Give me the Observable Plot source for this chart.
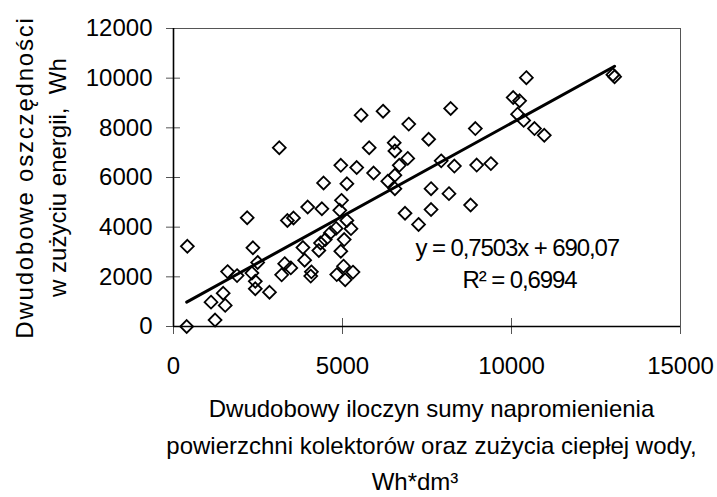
<!DOCTYPE html>
<html><head><meta charset="utf-8">
<script src="https://cdn.jsdelivr.net/npm/d3@7"></script>
<script src="https://cdn.jsdelivr.net/npm/@observablehq/plot@0.6"></script>
<style>body{margin:0;background:#fff}</style>
</head><body><div id="chart"></div>
<script>
const xValues = [390,410,1230,1110,1470,1530,1600,1880,2180,2350,2490,2320,2420,2420,2840,3130,3200,3290,3470,3370,3550,3830,3880,3970,4060,4080,4300,4350,4390,4440,4490,4640,4810,4830,4950,4970,4920,4950,5030,5080,5050,5130,5130,5250,5310,5420,5550,5790,5920,6200,6340,6530,6550,6550,6550,6680,6850,6930,6960,7250,7550,7620,7620,7920,8150,8200,8310,8790,8930,8970,9390,10050,10240,10180,10360,10440,10680,10970,13000,13050];
const yValues = [0,3230,260,980,1340,850,2210,2050,4380,3170,2580,2150,1820,1520,1380,7200,2080,2530,2360,4270,4370,3180,2670,4810,2030,2200,3060,3360,4740,5780,3500,3770,3950,2090,6490,5080,4680,3030,2430,1880,3500,5750,4270,3940,2190,6400,8510,7200,6180,8670,5850,7400,7070,6090,5550,6490,4560,6770,8150,4110,7540,5550,4710,6670,5350,8780,6460,4890,7970,6500,6560,9220,9090,8550,8300,10020,7970,7700,10140,10060];
const xTicks = [0, 5000, 10000, 15000];
const yTicks = [0, 2000, 4000, 6000, 8000, 10000, 12000];
const slope = 0.7503;
const intercept = 690.07;
const equationLabel = "y = 0,7503x + 690,07";
const r2Label = "R² = 0,6994";
const yLabelLines = ["Dwudobowe oszczędności", "w zużyciu energii,  Wh"];
const xLabelLines = ["Dwudobowy iloczyn sumy napromienienia", "powierzchni kolektorów oraz zużycia ciepłej wody,", "Wh*dm³"];

const points = xValues.map((x, i) => ({x, y: yValues[i]}));
const xMin = d3.min(xValues), xMax = d3.max(xValues);
const trend = [xMin, xMax].map(x => ({x, y: slope * x + intercept}));
const fmt = d3.format("d");
const txt = {text: d => d, fontSize: 24, fill: "#000"};

const chart = Plot.plot({
  width: 717, height: 497,
  marginLeft: 173, marginRight: 37, marginTop: 28, marginBottom: 171,
  style: {fontFamily: "'Liberation Sans', Arial, sans-serif", fontSize: "24px", color: "#000", background: "#fff"},
  x: {domain: [0, 15000]},
  y: {domain: [0, 12000]},
  marks: [
    Plot.frame({stroke: "#555", strokeWidth: 1}),
    Plot.axisX(xTicks, {tickSize: 8, tickPadding: 22, tickFormat: fmt, label: null, stroke: "#555", fill: "#000"}),
    Plot.axisX(xTicks, {tickSize: -8, tickFormat: () => "", label: null, stroke: "#555"}),
    Plot.axisY(yTicks, {tickSize: 7, tickPadding: 14, tickFormat: fmt, label: null, stroke: "#555", fill: "#000"}),
    Plot.axisY(yTicks, {tickSize: -7, tickFormat: () => "", label: null, stroke: "#555"}),
    Plot.ruleX([0], {stroke: "#000", strokeWidth: 1.6}),
    Plot.ruleY([0], {stroke: "#000", strokeWidth: 1.6}),
    Plot.dot(points, {x: "x", y: "y", symbol: "diamond2", r: 5.8, stroke: "#000", strokeWidth: 1.8, fill: "none"}),
    Plot.line(trend, {x: "x", y: "y", stroke: "#000", strokeWidth: 3}),
    Plot.text([equationLabel], {...txt, x: 7160, y: 3140, textAnchor: "start"}),
    Plot.text([r2Label], {...txt, x: 8550, y: 1850, textAnchor: "start"}),
    Plot.text([yLabelLines[0]], {...txt, frameAnchor: "left", dx: -148, rotate: -90, textAnchor: "middle"}),
    Plot.text([yLabelLines[1]], {...txt, frameAnchor: "left", dx: -115, rotate: -90, textAnchor: "middle"}),
    Plot.text([xLabelLines[0]], {...txt, frameAnchor: "bottom", dx: 4.5, dy: 90, textAnchor: "middle"}),
    Plot.text([xLabelLines[1]], {...txt, frameAnchor: "bottom", dx: 4.5, dy: 127, textAnchor: "middle"}),
    Plot.text([xLabelLines[2]], {...txt, frameAnchor: "bottom", dx: -12, dy: 163, textAnchor: "middle"})
  ]
});
const sel = d3.select(chart).selectAll("text");
sel.filter(function() { return this.textContent === equationLabel || this.textContent === r2Label; })
  .attr("letter-spacing", "-1.1px");
sel.filter(function() { return this.textContent === yLabelLines[0]; })
  .attr("letter-spacing", "1.8px");
document.getElementById("chart").appendChild(chart);
</script>
</body></html>
